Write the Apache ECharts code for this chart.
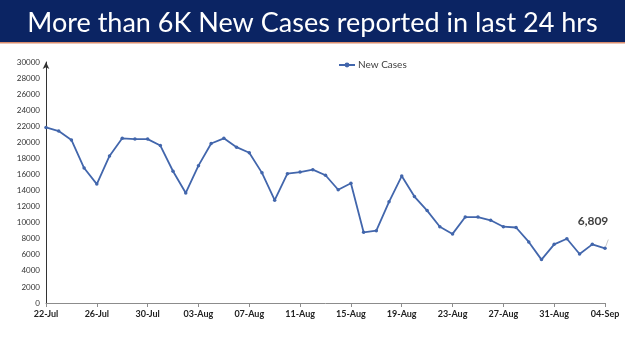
<!DOCTYPE html>
<html>
<head>
<meta charset="utf-8">
<script src="https://cdn.jsdelivr.net/npm/echarts@6/dist/echarts.min.js"></script>
<style>
  html, body { margin: 0; padding: 0; background: #fff; }
  #main { width: 625px; height: 351px; }
</style>
</head>
<body>
<div id="main"></div>
<script>
// dates, one per day 22-Jul .. 04-Sep
var days = [
  '22-Jul','23-Jul','24-Jul','25-Jul','26-Jul','27-Jul','28-Jul','29-Jul','30-Jul','31-Jul',
  '01-Aug','02-Aug','03-Aug','04-Aug','05-Aug','06-Aug','07-Aug','08-Aug','09-Aug','10-Aug',
  '11-Aug','12-Aug','13-Aug','14-Aug','15-Aug','16-Aug','17-Aug','18-Aug','19-Aug','20-Aug',
  '21-Aug','22-Aug','23-Aug','24-Aug','25-Aug','26-Aug','27-Aug','28-Aug','29-Aug','30-Aug',
  '31-Aug','01-Sep','02-Sep','03-Sep','04-Sep'
];
var newCases = [
  21850, 21400, 20300, 16800, 14800, 18300, 20500, 20400, 20400, 19600,
  16400, 13700, 17100, 19850, 20500, 19400, 18700, 16200, 12800, 16100,
  16300, 16600, 15900, 14100, 14900, 8800, 9000, 12600, 15800, 13250,
  11500, 9500, 8600, 10700, 10700, 10300, 9500, 9400, 7600, 5400,
  7300, 8000, 6100, 7300, 6809
];
var seriesName = 'New Cases';
var titleText = 'More than 6K New Cases reported in last 24 hrs';

var chart = echarts.init(document.getElementById('main'));

var pts = newCases.map(function(v, i) {
  if (i === newCases.length - 1) {
    return {
      value: v,
      label: {
        show: true,
        formatter: '6,809',
        position: 'top',
        offset: [-12, -14],
        fontSize: 12,
        fontWeight: 'bold',
        color: '#404040'
      },
      labelLine: { show: true, lineStyle: { color: '#c8c8c8', width: 1 } }
    };
  }
  return v;
});

chart.setOption({
  animation: false,
  textStyle: { fontFamily: 'Lato, "Open Sans", sans-serif' },
  graphic: [
    {
      type: 'rect',
      shape: { x: 0, y: 0, width: 625, height: 42 },
      style: { fill: '#0b2463' },
      z: 0
    },
    {
      type: 'rect',
      shape: { x: 0, y: 42, width: 625, height: 1.5 },
      style: { fill: '#d98c6c' },
      z: 0
    }
  ],
  title: {
    text: titleText,
    left: 'center',
    top: 5,
    textStyle: {
      color: '#ffffff',
      fontSize: 27,
      fontWeight: 'normal',
      fontFamily: 'Lato, "Open Sans", sans-serif'
    }
  },
  legend: {
    data: [seriesName],
    left: 333,
    top: 55,
    itemWidth: 16,
    itemHeight: 6,
    itemGap: 2,
    textStyle: { fontSize: 10, color: '#404040', padding: [0, 0, 0, -2] }
  },
  grid: { left: 46, right: 20, top: 62, bottom: 48 },
  xAxis: {
    type: 'category',
    data: days,
    boundaryGap: false,
    axisLine: { lineStyle: { color: '#8c8c8c', width: 1 } },
    axisTick: { show: true, interval: 3, length: 4, lineStyle: { color: '#8c8c8c' } },
    axisLabel: {
      interval: 3,
      fontSize: 9,
      fontWeight: 'bold',
      color: '#222',
      margin: 7
    }
  },
  yAxis: {
    type: 'value',
    min: 0,
    max: 30000,
    interval: 2000,
    axisLine: {
      show: true,
      symbol: ['none', 'arrow'],
      symbolSize: [5, 7],
      lineStyle: { color: '#333', width: 1 }
    },
    axisTick: { show: false },
    splitLine: { show: false },
    axisLabel: {
      fontSize: 8,
      color: '#333',
      margin: 6,
      formatter: function(v) { return String(v); }
    }
  },
  series: [{
    name: seriesName,
    type: 'line',
    data: pts,
    symbol: 'circle',
    symbolSize: 3.5,
    itemStyle: { color: '#4266ac' },
    lineStyle: { color: '#4266ac', width: 1.8 }
  }]
});
</script>
</body>
</html>
